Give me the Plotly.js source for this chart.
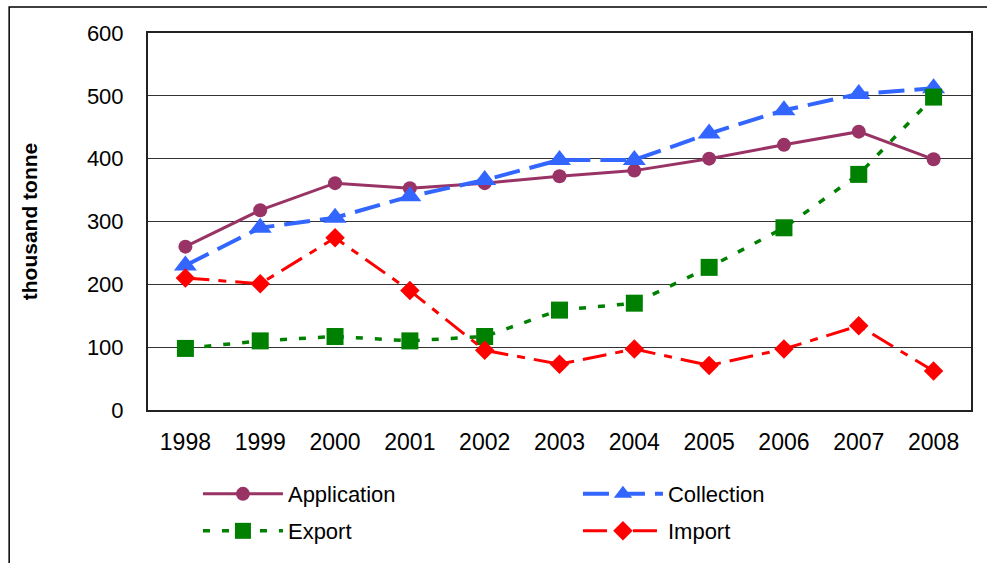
<!DOCTYPE html>
<html>
<head>
<meta charset="utf-8">
<script src="https://cdn.plot.ly/plotly-3.0.1.min.js"></script>
<style>html,body{margin:0;padding:0;background:#fff;}#chart{width:987px;height:563px;}</style>
</head>
<body>
<div id="chart"></div>
<script>
const years = ["1998","1999","2000","2001","2002","2003","2004","2005","2006","2007","2008"];
const application = [260, 318, 361, 353, 361, 372, 381, 400, 422, 443, 399];
const collection  = [230, 290, 306, 340, 366, 398, 398, 440, 477, 503, 512];
const exportVals  = [98, 110, 117, 110, 117, 159, 170, 227, 290, 375, 498];
const importVals  = [210, 201, 274, 190, 95, 73, 97, 71, 97, 134, 62];
const yTicks = [0, 100, 200, 300, 400, 500, 600];

const FONT = "Liberation Sans, Arial, sans-serif";

const traces = [
  {x: years, y: application, name: "Application", type: "scatter", mode: "lines+markers",
   line: {color: "#993366", width: 3}, marker: {symbol: "circle", size: 14, color: "#993366"}, legend: "legend"},
  {x: years, y: collection, name: "Collection", type: "scatter", mode: "lines+markers",
   line: {color: "#3366FF", width: 4, dash: "26px,10px"}, marker: {symbol: "triangle-up", size: 20, color: "#3366FF"}, legend: "legend"},
  {x: years, y: exportVals, name: "Export", type: "scatter", mode: "lines+markers",
   line: {color: "#008000", width: 3.5, dash: "7px,12px"}, marker: {symbol: "square", size: 17, color: "#008000"}, legend: "legend2"},
  {x: years, y: importVals, name: "Import", type: "scatter", mode: "lines+markers",
   line: {color: "#FF0000", width: 3, dash: "24px,9px,8px,9px"}, marker: {symbol: "diamond", size: 15, color: "#FF0000"}, legend: "legend2"}
];

const legendCommon = {
  orientation: "h", xanchor: "left", yanchor: "middle", x: 0.0607,
  font: {family: FONT, size: 22, color: "#000"}, bgcolor: "rgba(0,0,0,0)",
  itemwidth: 80, entrywidth: 285, entrywidthmode: "pixels", traceorder: "normal"
};

const layout = {
  width: 987, height: 563,
  margin: {l: 148, r: 16, t: 33, b: 153, autoexpand: false},
  paper_bgcolor: "#fff", plot_bgcolor: "#fff",
  font: {family: FONT, color: "#000"},
  showlegend: true,
  legend: Object.assign({}, legendCommon, {y: -0.223}),
  legend2: Object.assign({}, legendCommon, {y: -0.321}),
  xaxis: {
    type: "category", range: [-0.5, 10.5], tickvals: years, ticktext: years,
    showgrid: false, zeroline: false, showline: true, mirror: true, linecolor: "#222", linewidth: 2,
    ticks: "", tickfont: {family: FONT, size: 23, color: "#000"}, ticklabelstandoff: 10
  },
  yaxis: {
    range: [0, 600], tickvals: yTicks, ticktext: yTicks.map(String),
    showgrid: true, gridcolor: "#333", gridwidth: 1, zeroline: false,
    showline: true, mirror: true, linecolor: "#222", linewidth: 2,
    ticks: "", tickfont: {family: FONT, size: 22, color: "#000"}, ticklabelstandoff: 18,
    title: {text: "thousand tonne", font: {family: FONT, size: 21, color: "#000", weight: "bold"}, standoff: 44}
  },
  shapes: [
    {type: "rect", xref: "paper", yref: "paper", x0: -0.1687, x1: 1.05, y0: -0.45, y1: 1.069,
     line: {color: "#000", width: 1.5}, fillcolor: "rgba(0,0,0,0)", layer: "below"}
  ]
};

Plotly.newPlot("chart", traces, layout, {displayModeBar: false, staticPlot: true});
</script>
</body>
</html>
